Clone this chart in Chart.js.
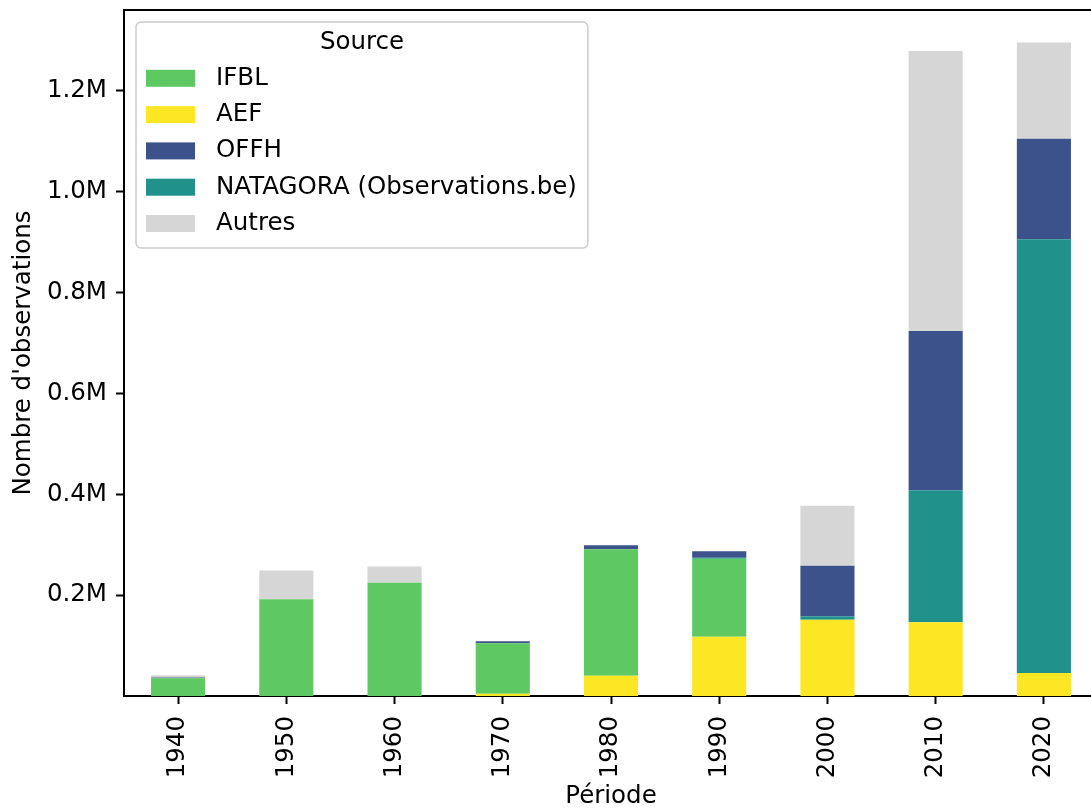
<!DOCTYPE html>
<html>
<head>
<meta charset="utf-8">
<script src="https://cdn.jsdelivr.net/npm/chart.js@4"></script>
<style>
  html, body { margin: 0; padding: 0; overflow: hidden; background: #fff; }
  canvas { display: block; }
</style>
</head>
<body>
<canvas id="chart" width="1100" height="809"></canvas>
<script>
// periods (x categories)
const periods = ['1940', '1950', '1960', '1970', '1980', '1990', '2000', '2010', '2020'];

// observations per source
const aef      = [0, 0, 0, 4500, 40000, 117500, 151000, 146000, 45600];
const ifbl     = [35000, 192000, 224600, 100000, 251000, 154500, 0, 0, 0];
const natagora = [0, 0, 0, 0, 0, 2000, 7000, 262000, 860000];
const offh     = [1500, 0, 0, 4000, 8000, 13000, 100000, 315500, 199000];
const autres   = [4500, 57000, 32000, 0, 0, 0, 119000, 555000, 191000];

const yTicks = [200000, 400000, 600000, 800000, 1000000, 1200000];
const legendOrder = ['IFBL', 'AEF', 'OFFH', 'NATAGORA (Observations.be)', 'Autres'];

const FS = 24.5;
Chart.defaults.font.family = '"DejaVu Sans", sans-serif';
Chart.defaults.font.size = FS;
Chart.defaults.color = '#000';

// matplotlib-like legend box inside the axes, top left
const legendBox = {
  id: 'legendBox',
  afterDraw(chart) {
    const ctx = chart.ctx;
    const area = chart.chartArea;
    const x = area.left + 12, y = area.top + 12;
    const items = legendOrder.map(name => chart.data.datasets.find(d => d.label === name));

    ctx.save();
    ctx.font = FS + 'px "DejaVu Sans"';
    const textW = Math.max(...items.map(d => ctx.measureText(d.label).width));
    const w = 80 + textW + 11, h = 226;

    ctx.beginPath();
    ctx.roundRect(x, y, w, h, 5);
    ctx.fillStyle = 'rgba(255,255,255,0.8)';
    ctx.fill();
    ctx.strokeStyle = '#cccccc';
    ctx.lineWidth = 1.5;
    ctx.stroke();

    ctx.fillStyle = '#000';
    ctx.textBaseline = 'middle';
    ctx.textAlign = 'center';
    ctx.fillText('Source', x + w / 2, y + 21);

    ctx.textAlign = 'left';
    items.forEach((d, i) => {
      const cy = y + 56.3 + i * 36.3;
      ctx.fillStyle = d.backgroundColor;
      ctx.fillRect(x + 10, cy - 8.5, 49, 17);
      ctx.fillStyle = '#000';
      ctx.fillText(d.label, x + 80, cy);
    });
    ctx.restore();
  }
};

// top and right spines
const frame = {
  id: 'frame',
  afterDraw(chart) {
    const ctx = chart.ctx, a = chart.chartArea;
    ctx.save();
    ctx.strokeStyle = '#000';
    ctx.lineWidth = 2;
    ctx.beginPath();
    ctx.moveTo(a.left - 1, a.top);
    ctx.lineTo(a.right, a.top);
    ctx.lineTo(a.right, a.bottom);
    ctx.stroke();
    ctx.restore();
  }
};

new Chart(document.getElementById('chart'), {
  type: 'bar',
  data: {
    labels: periods,
    datasets: [
      { label: 'AEF', data: aef, backgroundColor: '#fde725' },
      { label: 'IFBL', data: ifbl, backgroundColor: '#5ec962' },
      { label: 'NATAGORA (Observations.be)', data: natagora, backgroundColor: '#21918c' },
      { label: 'OFFH', data: offh, backgroundColor: '#3b528b' },
      { label: 'Autres', data: autres, backgroundColor: '#d6d6d6' }
    ]
  },
  options: {
    responsive: false,
    animation: false,
    barPercentage: 0.5,
    categoryPercentage: 1.0,
    layout: { padding: { top: 10, right: 2, left: 0, bottom: 0 } },
    plugins: {
      legend: { display: false },
      tooltip: { enabled: false }
    },
    scales: {
      x: {
        stacked: true,
        grid: { drawOnChartArea: false, offset: false, tickLength: 8, tickWidth: 2, tickColor: '#000' },
        border: { color: '#000', width: 2 },
        ticks: { minRotation: 90, maxRotation: 90, padding: 12, color: '#000' },
        title: { display: true, text: 'Période', color: '#000', font: { size: FS, lineHeight: 1 }, padding: 0 },
        afterFit(s) { s.height = 113; s.paddingLeft = 0; s.paddingRight = 0; }
      },
      y: {
        stacked: true,
        min: 0,
        max: 1360000,
        afterBuildTicks(s) { s.ticks = yTicks.map(v => ({ value: v })); },
        afterFit(s) { s.width = 124; s.paddingTop = 0; s.paddingBottom = 0; },
        grid: { drawOnChartArea: false, tickLength: 8, tickWidth: 2, tickColor: '#000' },
        border: { color: '#000', width: 2 },
        ticks: { padding: 9, color: '#000', callback: v => (v / 1e6).toFixed(1) + 'M' },
        title: { display: true, text: "Nombre d'observations", color: '#000', font: { size: FS, lineHeight: 1 }, padding: { top: 11, bottom: 0 } }
      }
    }
  },
  plugins: [legendBox, frame]
});
</script>
</body>
</html>
